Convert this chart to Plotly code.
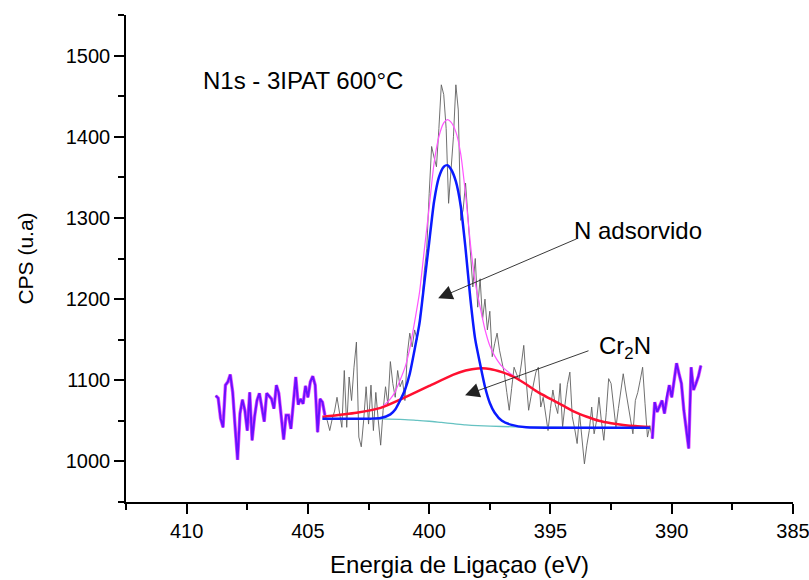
import plotly.graph_objects as go

# ---- measured N1s spectrum (0.1 eV steps, high -> low binding energy) ----
E_START = 408.8
E_STEP = 0.1
cps = [
    # 408.8 - 404.3
    1081, 1078, 1053, 1042, 1094, 1098, 1107, 1085, 1042, 1002,
    1059, 1076, 1063, 1038, 1085, 1026, 1055, 1075, 1084, 1067,
    1049, 1084, 1081, 1077, 1065, 1094, 1084, 1053, 1027, 1057,
    1057, 1040, 1071, 1104, 1070, 1077, 1071, 1093, 1079, 1098,
    1105, 1094, 1036, 1077, 1073, 1057,
    # 404.2 - 390.9
    1050, 1038, 1052, 1062, 1079, 1060, 1042, 1112, 1042, 1104,
    1075, 1116, 1147, 1030, 1018, 1051, 1092, 1046, 1094, 1038,
    1085, 1051, 1020, 1063, 1092, 1070, 1123, 1096, 1079, 1112,
    1092, 1100, 1075, 1133, 1158, 1141, 1162, 1150, 1174, 1195,
    1235, 1262, 1330, 1388, 1375, 1363, 1410, 1464, 1452, 1410,
    1318, 1355, 1400, 1464, 1433, 1297, 1310, 1343, 1300, 1260,
    1215, 1250, 1190, 1225, 1175, 1200, 1162, 1185, 1129, 1145,
    1158, 1137, 1120, 1108, 1085, 1063, 1090, 1116, 1108, 1100,
    1120, 1143, 1100, 1063, 1080, 1096, 1110, 1116, 1067, 1079,
    1060, 1038, 1065, 1088, 1070, 1059, 1096, 1042, 1070, 1095,
    1110, 1055, 1040, 1022, 1059, 1030, 997, 1020, 1038, 1067,
    1034, 1050, 1079, 1050, 1026, 1060, 1102, 1096, 1070, 1042,
    1065, 1090, 1108, 1088, 1069, 1055, 1034, 1075, 1085, 1100,
    1116, 1071, 1030, 1044,
    # 390.8 - 388.8
    1028, 1073, 1061, 1068, 1075, 1059, 1080, 1094, 1079, 1100,
    1121, 1108, 1096, 1063, 1040, 1016, 1116, 1088, 1096, 1105,
    1118,
]
energy = [round(E_START - E_STEP * i, 1) for i in range(len(cps))]

# fit window limits
FIT_HIGH = 404.3
FIT_LOW = 390.8

# ---- fitted components ----
bg_e = [404.4, 402.0, 401.0, 400.5, 400.0, 399.5, 399.0, 398.5, 398.0, 397.0, 396.0, 394.0, 390.9]
bg_y = [1052.5, 1052.3, 1051.5, 1050.5, 1049.5, 1048.0, 1046.5, 1045.0, 1044.0, 1043.0, 1042.3, 1042.0, 1041.6]

nads_e = [404.4, 402.4, 402.0, 401.6, 401.4, 401.2, 401.0, 400.8, 400.6, 400.4, 400.2, 400.0,
          399.8, 399.6, 399.4, 399.25, 399.1, 398.9, 398.7, 398.5, 398.3, 398.1, 397.9,
          397.7, 397.5, 397.3, 397.0, 396.6, 396.0, 394.0, 390.9]
nads_y = [1052.7, 1052.7, 1053.5, 1058, 1064, 1075, 1088, 1108, 1138, 1170, 1220, 1270,
          1320, 1350, 1363, 1365, 1360, 1345, 1315, 1262, 1200, 1150, 1120,
          1092, 1072, 1060, 1050, 1045, 1042, 1041.5, 1041.5]

cr2n_e = [404.4, 403.0, 402.0, 401.0, 400.0, 399.0, 398.5, 398.0, 397.5, 397.0, 396.5,
          396.0, 395.5, 395.0, 394.5, 394.0, 393.5, 393.0, 392.5, 392.0, 391.5, 390.9]
cr2n_y = [1055, 1060, 1066, 1079, 1093, 1107, 1112, 1114.5, 1114, 1110, 1104,
          1095, 1085, 1077, 1069, 1061, 1055, 1050, 1047, 1045, 1043.5, 1042.3]

sum_e = [404.4, 403.0, 402.0, 401.6, 401.4, 401.2, 401.0, 400.8, 400.6, 400.4, 400.2, 400.0,
         399.8, 399.6, 399.4, 399.25, 399.1, 398.9, 398.7, 398.5, 398.3, 398.1, 397.9,
         397.7, 397.5, 397.3, 397.0, 396.6, 396.0]
sum_y = [1055, 1060, 1066.4, 1077, 1086, 1100, 1115.5, 1139, 1172, 1208, 1261, 1313,
         1367, 1400, 1417, 1421, 1418, 1406, 1379, 1329, 1268, 1220, 1190,
         1162.5, 1142.5, 1130, 1117, 1107, 1094.7]

FONT = "Arial, Liberation Sans, sans-serif"

fig = go.Figure()

# raw counts
fig.add_trace(go.Scatter(x=energy, y=cps, mode="lines",
                         line=dict(color="#606060", width=0.9)))

# envelope
fig.add_trace(go.Scatter(x=sum_e, y=sum_y, mode="lines", line_shape="spline",
                         line=dict(color="#ff55ff", width=1.2, smoothing=0.6)))
# background
fig.add_trace(go.Scatter(x=bg_e, y=bg_y, mode="lines", line_shape="spline",
                         line=dict(color="#66c2c2", width=1.3, smoothing=0.6)))
# Cr2N component
fig.add_trace(go.Scatter(x=cr2n_e, y=cr2n_y, mode="lines", line_shape="spline",
                         line=dict(color="#ff1030", width=2.5, smoothing=0.6)))
# adsorbed N component
fig.add_trace(go.Scatter(x=nads_e, y=nads_y, mode="lines", line_shape="spline",
                         line=dict(color="#0a1aff", width=2.5, smoothing=0.6)))

# outside the fit window the overlapping curves appear as one violet trace
for lo, hi in [(FIT_HIGH, 99999), (0, FIT_LOW)]:
    seg_e = [e for e in energy if lo <= e <= hi]
    seg_y = [c for e, c in zip(energy, cps) if lo <= e <= hi]
    fig.add_trace(go.Scatter(x=seg_e, y=seg_y, mode="lines",
                             line=dict(color="#e050ff", width=3.4)))
    fig.add_trace(go.Scatter(x=seg_e, y=seg_y, mode="lines",
                             line=dict(color="#6a10ff", width=2.0)))

annotations = [
    dict(x=409.4, y=1469, xref="x", yref="y", text="N1s - 3IPAT 600°C",
         showarrow=False, xanchor="left", yanchor="middle",
         font=dict(size=24, color="black", family=FONT)),
    dict(x=394.1, y=1285, xref="x", yref="y", text="N adsorvido",
         showarrow=False, xanchor="left", yanchor="middle",
         font=dict(size=24, color="black", family=FONT)),
    dict(x=393.1, y=1140, xref="x", yref="y", text="Cr<sub>2</sub>N",
         showarrow=False, xanchor="left", yanchor="middle",
         font=dict(size=24, color="black", family=FONT)),
    dict(x=399.63, y=1201, ax=393.86, ay=1275, xref="x", yref="y",
         axref="x", ayref="y", text="", showarrow=True, arrowhead=2,
         arrowsize=3.2, arrowwidth=0.9, arrowcolor="#222222"),
    dict(x=398.52, y=1081.5, ax=393.37, ay=1137, xref="x", yref="y",
         axref="x", ayref="y", text="", showarrow=True, arrowhead=2,
         arrowsize=3.2, arrowwidth=0.9, arrowcolor="#222222"),
]

axis_common = dict(showgrid=False, zeroline=False, showline=True,
                   linecolor="black", linewidth=1.5, ticks="outside",
                   ticklen=10, tickwidth=1.5, tickcolor="black",
                   ticklabeloverflow="allow", automargin=False,
                   tickfont=dict(size=20, color="black", family=FONT))

fig.update_layout(
    width=809, height=580,
    margin=dict(l=126, r=16, t=15, b=78),
    paper_bgcolor="white", plot_bgcolor="white",
    showlegend=False,
    annotations=annotations,
    xaxis=dict(range=[412.5, 385], tickmode="array",
               tickvals=[410, 405, 400, 395, 390, 385],
               minor=dict(tickvals=[412.5, 407.5, 402.5, 397.5, 392.5, 387.5],
                          ticks="outside", ticklen=6, tickwidth=1.5, tickcolor="black"),
               title=dict(text="Energia de Ligaçao (eV)", standoff=15,
                          font=dict(size=24, color="black", family=FONT)),
               mirror=False, **axis_common),
    yaxis=dict(range=[950, 1550], tickmode="array",
               tickvals=[1000, 1100, 1200, 1300, 1400, 1500],
               minor=dict(tickvals=[950, 1050, 1150, 1250, 1350, 1450, 1550],
                          ticks="outside", ticklen=6, tickwidth=1.5, tickcolor="black"),
               title=dict(text="CPS (u.a)", standoff=26,
                          font=dict(size=21, color="black", family=FONT)),
               **axis_common),
)

fig.write_html("out.html", config={"displayModeBar": False})
